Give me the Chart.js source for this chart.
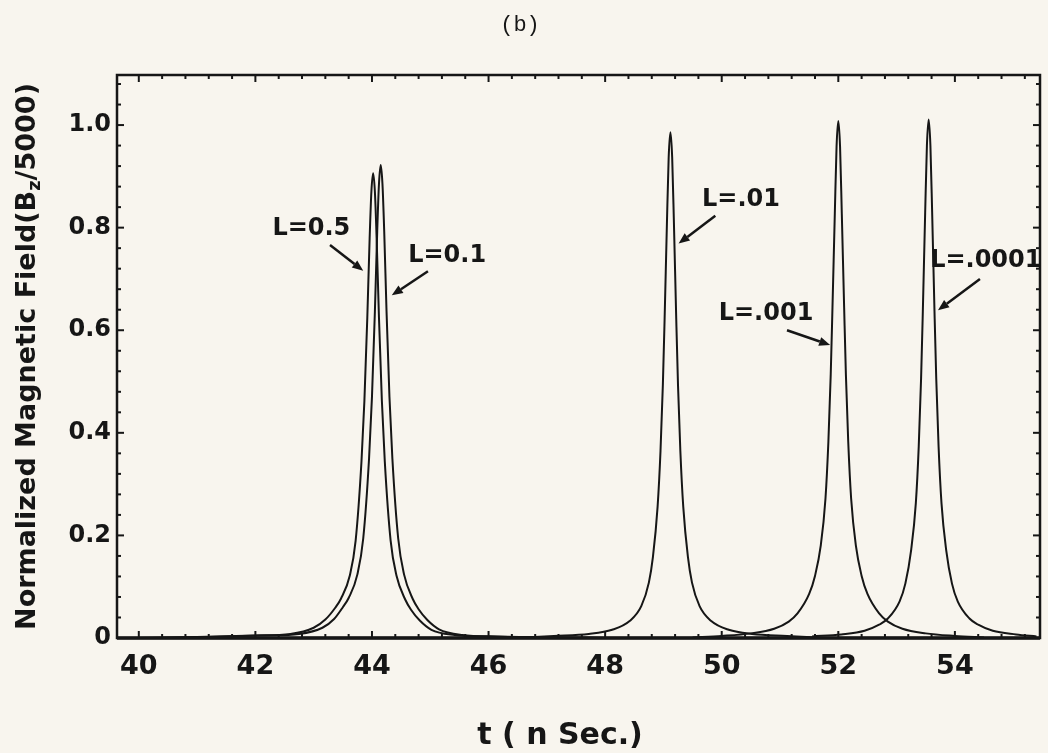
<!DOCTYPE html>
<html>
<head>
<meta charset="utf-8">
<title>Normalized Magnetic Field (b)</title>
<script src="https://cdn.jsdelivr.net/npm/chart.js@4.4.0/dist/chart.umd.min.js"></script>
<style>
  html, body { margin: 0; padding: 0; background: #f8f5ee; }
  #chart { display: block; }
</style>
</head>
<body>
<canvas id="chart" width="1048" height="753"></canvas>
<script>
// === values ===
const xTicks = [40, 42, 44, 46, 48, 50, 52, 54];
const yTicks = [0, 0.2, 0.4, 0.6, 0.8, 1.0];

// L = 0.5
const tL0p5 = [40.0, 41.0, 42.0, 42.6, 43.0, 43.2, 43.37, 43.47, 43.62, 43.72, 43.82, 43.87, 43.92, 43.96, 43.99, 44.02, 44.05, 44.08, 44.12, 44.17, 44.22, 44.32, 44.42, 44.57, 44.67, 44.82, 45.02, 45.42, 46.0, 47.0, 48.0];
const bL0p5 = [0.0, 0.002, 0.005, 0.008, 0.020, 0.036, 0.059, 0.077, 0.122, 0.190, 0.344, 0.462, 0.625, 0.779, 0.870, 0.906, 0.870, 0.779, 0.625, 0.462, 0.344, 0.190, 0.122, 0.075, 0.055, 0.034, 0.016, 0.006, 0.003, 0.001, 0.0];

// L = 0.1
const tL0p1 = [40.2, 41.2, 42.15, 42.75, 43.15, 43.35, 43.5, 43.6, 43.75, 43.85, 43.95, 44.0, 44.05, 44.09, 44.12, 44.15, 44.18, 44.21, 44.25, 44.3, 44.35, 44.45, 44.55, 44.7, 44.8, 44.95, 45.15, 45.55, 46.15, 47.1, 48.0];
const bL0p1 = [0.0, 0.002, 0.005, 0.008, 0.020, 0.037, 0.060, 0.078, 0.124, 0.194, 0.350, 0.470, 0.636, 0.793, 0.885, 0.922, 0.885, 0.793, 0.636, 0.470, 0.350, 0.194, 0.124, 0.076, 0.056, 0.035, 0.017, 0.006, 0.003, 0.001, 0.0];

// L = .01
const tL1e2 = [46.62, 47.12, 47.72, 48.12, 48.42, 48.62, 48.75, 48.82, 48.90, 48.95, 48.99, 49.02, 49.06, 49.09, 49.12, 49.15, 49.18, 49.22, 49.25, 49.29, 49.34, 49.42, 49.49, 49.62, 49.82, 50.12, 50.52, 51.12, 51.62];
const bL1e2 = [0.001, 0.004, 0.008, 0.016, 0.033, 0.062, 0.108, 0.158, 0.256, 0.365, 0.493, 0.621, 0.809, 0.937, 0.986, 0.937, 0.809, 0.621, 0.493, 0.365, 0.256, 0.158, 0.108, 0.062, 0.033, 0.016, 0.008, 0.004, 0.001];

// L = .001
const tL1e3 = [49.5, 50.0, 50.5, 50.9, 51.15, 51.3, 51.5, 51.6, 51.7, 51.78, 51.83, 51.87, 51.9, 51.94, 51.97, 52.0, 52.03, 52.06, 52.1, 52.13, 52.17, 52.22, 52.3, 52.4, 52.5, 52.7, 52.85, 53.1, 53.5, 54.0, 54.5];
const bL1e3 = [0.001, 0.004, 0.009, 0.018, 0.032, 0.048, 0.086, 0.121, 0.181, 0.272, 0.383, 0.514, 0.645, 0.827, 0.958, 1.008, 0.958, 0.827, 0.645, 0.514, 0.383, 0.272, 0.181, 0.121, 0.086, 0.048, 0.032, 0.018, 0.009, 0.004, 0.001];

// L = .0001
const tL1e4 = [51.55, 52.05, 52.45, 52.7, 52.85, 53.05, 53.15, 53.25, 53.33, 53.38, 53.42, 53.45, 53.49, 53.52, 53.55, 53.58, 53.61, 53.65, 53.68, 53.72, 53.77, 53.85, 53.95, 54.05, 54.25, 54.4, 54.65, 55.05, 55.4];
const bL1e4 = [0.003, 0.007, 0.014, 0.026, 0.038, 0.071, 0.106, 0.172, 0.263, 0.374, 0.506, 0.637, 0.829, 0.960, 1.011, 0.960, 0.829, 0.637, 0.506, 0.374, 0.263, 0.172, 0.106, 0.071, 0.038, 0.026, 0.014, 0.007, 0.003];

const seriesNames = ["L=0.5", "L=0.1", "L=.01", "L=.001", "L=.0001"];

// curve labels + arrows, in data units (text centre, arrow tail, arrow tip)
const notes = [
  { text: "L=0.5",   at: [42.96, 0.797], from: [43.28, 0.766], to: [43.85, 0.716] },
  { text: "L=0.1",   at: [45.29, 0.746], from: [44.96, 0.715], to: [44.34, 0.668] },
  { text: "L=.01",   at: [50.33, 0.854], from: [49.89, 0.823], to: [49.26, 0.769] },
  { text: "L=.001",  at: [50.76, 0.633], from: [51.12, 0.600], to: [51.86, 0.571] },
  { text: "L=.0001", at: [54.53, 0.735], from: [54.43, 0.700], to: [53.71, 0.639] }
];

const INK = "#161616";
const PAPER = "#f8f5ee";
const FONT = "'DejaVu Sans', 'Liberation Sans', sans-serif";

function toPoints(xs, ys) {
  return xs.map((x, i) => ({ x: x, y: ys[i] }));
}

const curves = [
  toPoints(tL0p5, bL0p5),
  toPoints(tL0p1, bL0p1),
  toPoints(tL1e2, bL1e2),
  toPoints(tL1e3, bL1e3),
  toPoints(tL1e4, bL1e4)
];

// === frame, inward ticks, axis titles, curve notes ===
const paperPlugin = {
  id: "paper",
  beforeDraw(chart) {
    const ctx = chart.ctx;
    ctx.save();
    ctx.fillStyle = PAPER;
    ctx.fillRect(0, 0, chart.width, chart.height);
    ctx.restore();
  },
  afterDraw(chart) {
    const { ctx, chartArea: a } = chart;
    const xs = chart.scales.x, ys = chart.scales.y;

    function seg(x1, y1, x2, y2) {
      ctx.beginPath();
      ctx.moveTo(x1, y1);
      ctx.lineTo(x2, y2);
      ctx.stroke();
    }

    ctx.save();
    ctx.strokeStyle = INK;
    ctx.fillStyle = INK;
    ctx.lineCap = "butt";

    // box
    ctx.lineWidth = 2.5;
    ctx.strokeRect(a.left, a.top, a.right - a.left, a.bottom - a.top);
    ctx.lineWidth = 3.5;
    seg(a.left, a.bottom, a.right, a.bottom);

    // x ticks every 0.4, longer on the labelled ones
    ctx.lineWidth = 2;
    for (let i = 0; ; i++) {
      const v = 40 + i * 0.4;
      if (v > xs.max) break;
      const px = xs.getPixelForValue(v);
      const len = i % 5 === 0 ? 7 : 4;
      seg(px, a.top, px, a.top + len);
      seg(px, a.bottom, px, a.bottom - len);
    }
    // y ticks every 0.04
    for (let i = 0; ; i++) {
      const v = i * 0.04;
      if (v > ys.max) break;
      const py = ys.getPixelForValue(v);
      const len = i % 5 === 0 ? 7 : 4;
      seg(a.left, py, a.left + len, py);
      seg(a.right, py, a.right - len, py);
    }

    // curve labels with arrows
    ctx.font = "bold 24px " + FONT;
    ctx.textAlign = "center";
    ctx.textBaseline = "middle";
    ctx.lineWidth = 2.5;
    notes.forEach(n => {
      const tx = xs.getPixelForValue(n.at[0]);
      const ty = ys.getPixelForValue(n.at[1]);
      ctx.fillText(n.text, tx, ty);

      const x1 = xs.getPixelForValue(n.from[0]), y1 = ys.getPixelForValue(n.from[1]);
      const x2 = xs.getPixelForValue(n.to[0]), y2 = ys.getPixelForValue(n.to[1]);
      const ang = Math.atan2(y2 - y1, x2 - x1);
      const head = 11, half = 4.5;
      const bx = x2 - head * Math.cos(ang), by = y2 - head * Math.sin(ang);
      seg(x1, y1, bx, by);
      ctx.beginPath();
      ctx.moveTo(x2, y2);
      ctx.lineTo(bx + half * Math.sin(ang), by - half * Math.cos(ang));
      ctx.lineTo(bx - half * Math.sin(ang), by + half * Math.cos(ang));
      ctx.closePath();
      ctx.fill();
    });

    // x title
    ctx.font = "bold 30px " + FONT;
    ctx.textAlign = "center";
    ctx.textBaseline = "middle";
    ctx.fillText("t ( n Sec.)", 560, 736);

    // y title, with the z as a subscript
    const big = "bold 27px " + FONT, small = "bold 18px " + FONT;
    const parts = [
      { s: "Normalized Magnetic Field(B", f: big, dy: 0 },
      { s: "z", f: small, dy: 7 },
      { s: "/5000)", f: big, dy: 0 }
    ];
    let total = 0;
    parts.forEach(p => { ctx.font = p.f; p.w = ctx.measureText(p.s).width; total += p.w; });
    ctx.translate(28, (a.top + a.bottom) / 2);
    ctx.rotate(-Math.PI / 2);
    ctx.textAlign = "left";
    ctx.textBaseline = "middle";
    let cx = -total / 2;
    parts.forEach(p => {
      ctx.font = p.f;
      ctx.fillText(p.s, cx, p.dy);
      cx += p.w;
    });

    ctx.restore();
  }
};

new Chart(document.getElementById("chart"), {
  type: "line",
  data: {
    datasets: curves.map((pts, i) => ({
      label: seriesNames[i],
      data: pts,
      borderColor: INK,
      borderWidth: 2,
      pointRadius: 0,
      fill: false,
      cubicInterpolationMode: "monotone"
    }))
  },
  options: {
    responsive: false,
    animation: false,
    devicePixelRatio: 1,
    layout: { padding: { top: 0, right: 8, bottom: 0, left: 0 } },
    plugins: {
      legend: { display: false },
      tooltip: { enabled: false },
      title: {
        display: true,
        text: "(b)",
        color: INK,
        font: { family: "'Liberation Mono', 'DejaVu Sans Mono', monospace", size: 22, weight: "normal", lineHeight: 1.2 },
        padding: { top: 12, bottom: 36.6 }
      }
    },
    scales: {
      x: {
        type: "linear",
        min: 39.626,
        max: 55.46,
        grid: { display: false, drawTicks: false },
        border: { display: false },
        afterBuildTicks: scale => { scale.ticks = xTicks.map(v => ({ value: v })); },
        afterFit: scale => { scale.height = 115; },
        ticks: {
          color: INK,
          padding: 13,
          font: { family: FONT, size: 27, weight: "bold" },
          callback: v => String(v)
        }
      },
      y: {
        type: "linear",
        min: 0,
        max: 1.0976,
        grid: { display: false, drawTicks: false },
        border: { display: false },
        afterBuildTicks: scale => { scale.ticks = yTicks.map(v => ({ value: v })); },
        afterFit: scale => { scale.width = 117; },
        ticks: {
          color: INK,
          padding: 6,
          font: { family: FONT, size: 24, weight: "bold" },
          callback: v => (v === 0 ? "0" : v.toFixed(1))
        }
      }
    }
  },
  plugins: [paperPlugin]
});
</script>
</body>
</html>
